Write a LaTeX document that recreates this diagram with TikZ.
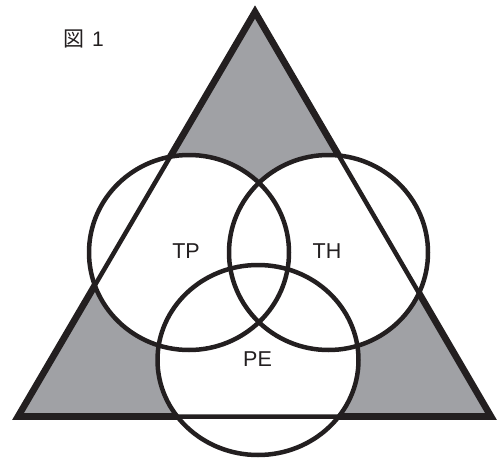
\documentclass[tikz,border=0pt]{standalone}
\usepackage{fontspec}
\setmainfont{Liberation Sans}
\newfontfamily\cjk{Noto Sans CJK JP}
\definecolor{inkblack}{RGB}{35,31,32}
\definecolor{shade}{RGB}{160,161,165}
\tikzset{
  tri outer/.style={draw=inkblack, line width=6.7pt, line join=miter, fill=shade},
  tri inner/.style={draw=inkblack, line width=4.5pt, line join=miter},
  ring/.style={draw=inkblack, line width=4.5pt},
  ringfill/.style={fill=white},
  lbl/.style={font=\fontsize{21.5pt}{21.5pt}\selectfont, text=inkblack, inner sep=0pt}
}
\begin{document}
\begin{tikzpicture}[x=1pt,y=-1pt]
\useasboundingbox (0,0) rectangle (498,460);
\coordinate (A) at (255,12);
\coordinate (B) at (18,416.5);
\coordinate (C) at (491,416.5);
\coordinate (cTP) at (189,252.5);
\coordinate (cTH) at (328.5,252.5);
\coordinate (cPE) at (258,360);
\path[tri outer] (A) -- (B) -- (C) -- cycle;
\fill[ringfill] (cTP) ellipse [x radius=100pt, y radius=97.5pt];
\fill[ringfill] (cTH) ellipse [x radius=99.5pt, y radius=97.5pt];
\fill[ringfill] (cPE) ellipse [x radius=100.5pt, y radius=95pt];
\draw[tri inner] (A) -- (B) -- (C) -- cycle;
\draw[ring] (cTP) ellipse [x radius=100pt, y radius=97.5pt];
\draw[ring] (cTH) ellipse [x radius=99.5pt, y radius=97.5pt];
\draw[ring] (cPE) ellipse [x radius=100.5pt, y radius=95pt];
\node[lbl] (tp) at (186,251) {TP};
\node[lbl] (th) at (327,251.5) {TH};
\node[lbl] (pe) at (257.5,359.5) {PE};
\node[lbl, anchor=west, font=\fontsize{21pt}{21pt}\selectfont] (fig) at (63,39) {{\cjk 図}\hspace{8pt}1};
\end{tikzpicture}
\end{document}
